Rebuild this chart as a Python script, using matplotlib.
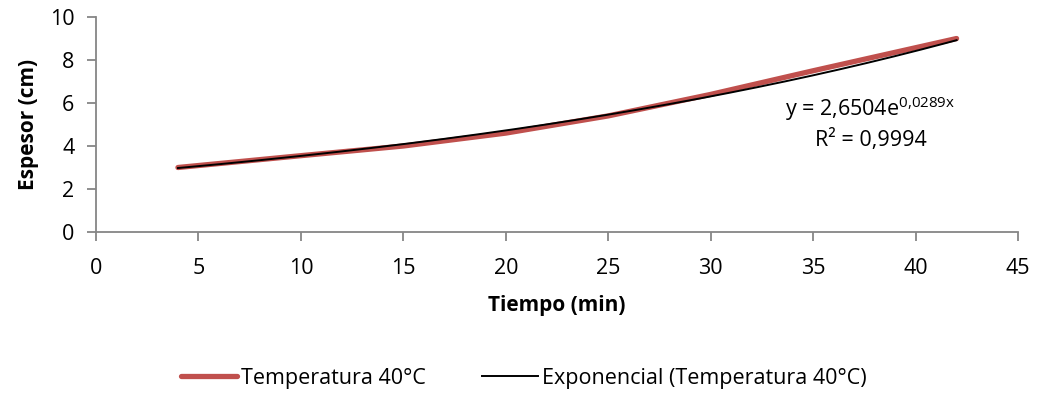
import numpy as np
import matplotlib.pyplot as plt

# data #
tiempo = [4, 10, 15, 20, 25, 30, 35, 42]                  # min
espesor = [3.0, 3.55, 4.0, 4.6, 5.4, 6.4, 7.5, 9.0]       # cm
a_fit = 2.6504
b_fit = 0.0289
r2 = 0.9994

plt.rcParams['font.family'] = ['Open Sans', 'DejaVu Sans']
plt.rcParams['mathtext.fontset'] = 'custom'
plt.rcParams['mathtext.rm'] = 'Open Sans'
grey = '#868686'

fig = plt.figure(figsize=(10.48, 3.93), dpi=100)
ax = fig.add_axes([0.0916, 0.4097, 0.8798, 0.547])

ax.plot(tiempo, espesor, color='#c0504d', lw=3.8, solid_capstyle='round',
        label='Temperatura 40°C')
x_tr = np.linspace(min(tiempo), max(tiempo), 200)
ax.plot(x_tr, a_fit * np.exp(b_fit * x_tr), color='black', lw=1.4,
        label='Exponencial (Temperatura 40°C)')

ax.text(37.8, 5.75, r'y = 2,6504e$\mathregular{^{0{,}0289x}}$', fontsize=15.5,
        ha='center', va='center')
ax.text(37.8, 4.28, 'R² = 0,9994', fontsize=15.5, ha='center', va='center')

ax.set_xlim(0, 45)
ax.set_ylim(0, 10)
ax.set_xticks(range(0, 46, 5))
ax.set_yticks(range(0, 11, 2))
for s in ['top', 'right']:
    ax.spines[s].set_visible(False)
for s in ['left', 'bottom']:
    ax.spines[s].set_color(grey)
    ax.spines[s].set_linewidth(1.3)
ax.tick_params(direction='out', color=grey, length=6.5, width=1.3, labelsize=15.5)
ax.tick_params(axis='x', pad=12)
ax.tick_params(axis='y', pad=9)

ax.set_xlabel('Tiempo (min)', fontsize=15, fontweight='bold', labelpad=12)
ax.set_ylabel('Espesor (cm)', fontsize=15, fontweight='bold', labelpad=8)

fig.legend(loc='center', bbox_to_anchor=(0.5, 0.038), ncol=2, frameon=False,
           fontsize=15.5, handlelength=2.6, handletextpad=0.2, columnspacing=2.6)

fig.savefig('out.png', dpi=100)
